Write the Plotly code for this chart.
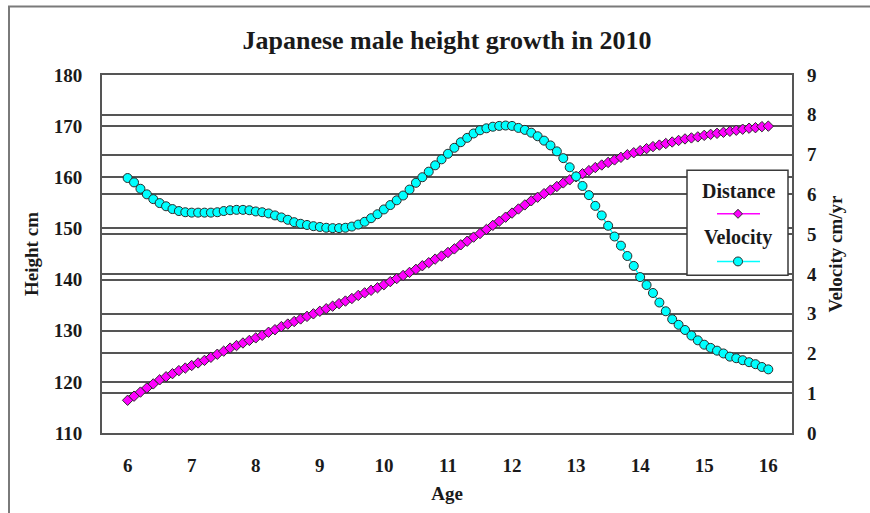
import numpy as np
import plotly.graph_objects as go

# Age in years, sampled every 0.1 year from 6 to 16
ages = np.round(np.arange(6.0, 16.0001, 0.1), 1)

# Standing height (cm)
distance = [
    116.4, 117.2, 118.0, 118.8, 119.6, 120.4, 121.0, 121.6, 122.2, 122.7,
    123.2, 123.7, 124.2, 124.8, 125.4, 126.0, 126.6, 127.1, 127.6, 128.1,
    128.6, 129.1, 129.7, 130.2, 130.8, 131.3, 131.8, 132.3, 132.8, 133.3,
    133.8, 134.3, 134.8, 135.3, 135.8, 136.3, 136.9, 137.4, 137.9, 138.4,
    139.0, 139.6, 140.2, 140.8, 141.4, 142.0, 142.7, 143.3, 144.0, 144.6,
    145.3, 146.0, 146.8, 147.5, 148.3, 149.0, 149.8, 150.6, 151.4, 152.2,
    153.0, 153.8, 154.6, 155.4, 156.1, 156.8, 157.5, 158.2, 158.9, 159.5,
    160.1, 160.7, 161.3, 161.9, 162.4, 162.9, 163.4, 163.9, 164.4, 164.8,
    165.2, 165.6, 166.0, 166.3, 166.6, 166.9, 167.2, 167.5, 167.7, 167.9,
    168.2, 168.4, 168.6, 168.8, 169.0, 169.2, 169.4, 169.6, 169.7, 169.9,
    170.0,
]

# Height velocity (cm/yr)
velocity = [
    6.41, 6.30, 6.14, 6.00, 5.88, 5.78, 5.70, 5.63, 5.58, 5.55,
    5.54, 5.54, 5.54, 5.54, 5.55, 5.58, 5.60, 5.61, 5.61, 5.60,
    5.57, 5.55, 5.52, 5.47, 5.42, 5.36, 5.30, 5.26, 5.23, 5.20,
    5.18, 5.16, 5.15, 5.15, 5.16, 5.19, 5.24, 5.31, 5.40, 5.50,
    5.62, 5.73, 5.85, 5.97, 6.12, 6.29, 6.43, 6.57, 6.73, 6.88,
    7.02, 7.17, 7.31, 7.42, 7.53, 7.61, 7.66, 7.70, 7.72, 7.73,
    7.72, 7.67, 7.62, 7.55, 7.46, 7.35, 7.23, 7.08, 6.91, 6.68,
    6.45, 6.21, 5.98, 5.71, 5.47, 5.21, 4.94, 4.71, 4.45, 4.20,
    3.92, 3.72, 3.52, 3.28, 3.06, 2.86, 2.72, 2.59, 2.45, 2.33,
    2.22, 2.14, 2.07, 2.00, 1.92, 1.88, 1.83, 1.78, 1.73, 1.66,
    1.60,
]

x_ticks = list(range(6, 17))
height_ticks = list(range(110, 181, 10))
velocity_ticks = list(range(0, 10))

SERIF = "Liberation Serif"
GRID = "#555555"
MAGENTA = "#FF00FF"
CYAN = "#00FFFF"
OUTLINE = "#2b2b2b"

W, H = 870, 513
ML, MR, MT, MB = 102, 78, 75, 77
PW, PH = W - ML - MR, H - MT - MB


def px_x(x):
    return (x - ML) / PW


def px_y(y):
    return (H - MB - y) / PH


fig = go.Figure()

fig.add_trace(go.Scatter(
    x=ages, y=distance, name="Distance", mode="lines+markers",
    line=dict(color=MAGENTA, width=1.5),
    marker=dict(symbol="diamond", size=8, color=MAGENTA,
                line=dict(color=OUTLINE, width=1)),
    yaxis="y", showlegend=False,
))
fig.add_trace(go.Scatter(
    x=ages, y=velocity, name="Velocity", mode="lines+markers",
    line=dict(color=CYAN, width=1.5),
    marker=dict(symbol="circle", size=9, color=CYAN,
                line=dict(color=OUTLINE, width=1)),
    yaxis="y2", showlegend=False,
))

tick_font = dict(family=SERIF, size=19, color="#1a1a1a", weight="bold")
title_font = dict(family=SERIF, size=19, color="#1a1a1a", weight="bold")

fig.update_layout(
    width=W, height=H,
    margin=dict(l=ML, r=MR, t=MT, b=MB, pad=0),
    paper_bgcolor="white", plot_bgcolor="white",
    title=dict(text="Japanese male height growth in 2010",
               font=dict(family=SERIF, size=26, color="#1a1a1a", weight="bold"),
               x=0.5, xref="paper", xanchor="center",
               y=1 - 40 / H, yref="container", yanchor="middle"),
    xaxis=dict(
        range=[5.6, 16.37], tickvals=x_ticks, ticktext=[str(t) for t in x_ticks],
        showgrid=False, zeroline=False, ticks="",
        showline=True, linecolor=GRID, linewidth=2, mirror=True,
        tickfont=tick_font, ticklabelstandoff=14,
        title=dict(text="Age", font=title_font, standoff=12),
    ),
    yaxis=dict(
        range=[110, 180], tickvals=height_ticks,
        showgrid=True, gridcolor=GRID, gridwidth=1.6, zeroline=False,
        showline=True, linecolor=GRID, linewidth=2, mirror=True, ticks="",
        tickfont=tick_font, ticklabelstandoff=14,
        title=dict(text="Height cm", font=title_font, standoff=10),
    ),
    yaxis2=dict(
        range=[0, 9], tickvals=velocity_ticks, overlaying="y", side="right",
        showgrid=True, gridcolor=GRID, gridwidth=1.6, zeroline=False,
        showline=False, ticks="",
        tickfont=tick_font, ticklabelstandoff=14,
        title=dict(text="Velocity cm/yr", font=title_font, standoff=12),
    ),
    showlegend=False,
)

# Legend box with the series name above each line/marker sample
lx0, lx1 = px_x(687), px_x(788)
ly0, ly1 = px_y(277), px_y(171)
cx = px_x(738)
shapes = [
    dict(type="rect", xref="paper", yref="paper", x0=lx0, x1=lx1, y0=ly0, y1=ly1,
         line=dict(color="#3a3a3a", width=1.5), fillcolor="white", layer="above"),
]
annotations = []
legend_items = [("Distance", MAGENTA, "diamond", 192, 215),
                ("Velocity", CYAN, "circle", 239, 263)]
for label, color, sym, ty, sy in legend_items:
    annotations.append(dict(
        text=label, xref="paper", yref="paper", x=cx, y=px_y(ty),
        xanchor="center", yanchor="middle", showarrow=False,
        font=dict(family=SERIF, size=20, color="#1a1a1a", weight="bold"),
    ))
    shapes.append(dict(type="line", xref="paper", yref="paper",
                       x0=px_x(717), x1=px_x(760), y0=px_y(sy), y1=px_y(sy),
                       line=dict(color=color, width=1.5), layer="above"))
    r = 4.5
    if sym == "circle":
        shapes.append(dict(type="circle", xref="paper", yref="paper",
                           x0=px_x(738 - r), x1=px_x(738 + r),
                           y0=px_y(sy + r), y1=px_y(sy - r),
                           fillcolor=color, line=dict(color=OUTLINE, width=1),
                           layer="above"))
    else:
        path = "M {a},{b} L {c},{d} L {e},{b} L {c},{f} Z".format(
            a=px_x(738 - r), b=px_y(sy), c=cx, d=px_y(sy - r),
            e=px_x(738 + r), f=px_y(sy + r))
        shapes.append(dict(type="path", xref="paper", yref="paper", path=path,
                           fillcolor=color, line=dict(color=OUTLINE, width=1),
                           layer="above"))

# Outer chart-area border along the top and left edges
shapes.append(dict(type="path", xref="paper", yref="paper",
                   path="M {x0},{y0} L {x0},{y1} L {x2},{y1}".format(
                       x0=px_x(9), y0=px_y(H + 5), y1=px_y(6), x2=px_x(W + 5)),
                   line=dict(color="#7a7a7a", width=2), layer="above"))

fig.update_layout(shapes=shapes, annotations=annotations)

fig.write_html("out.html")
